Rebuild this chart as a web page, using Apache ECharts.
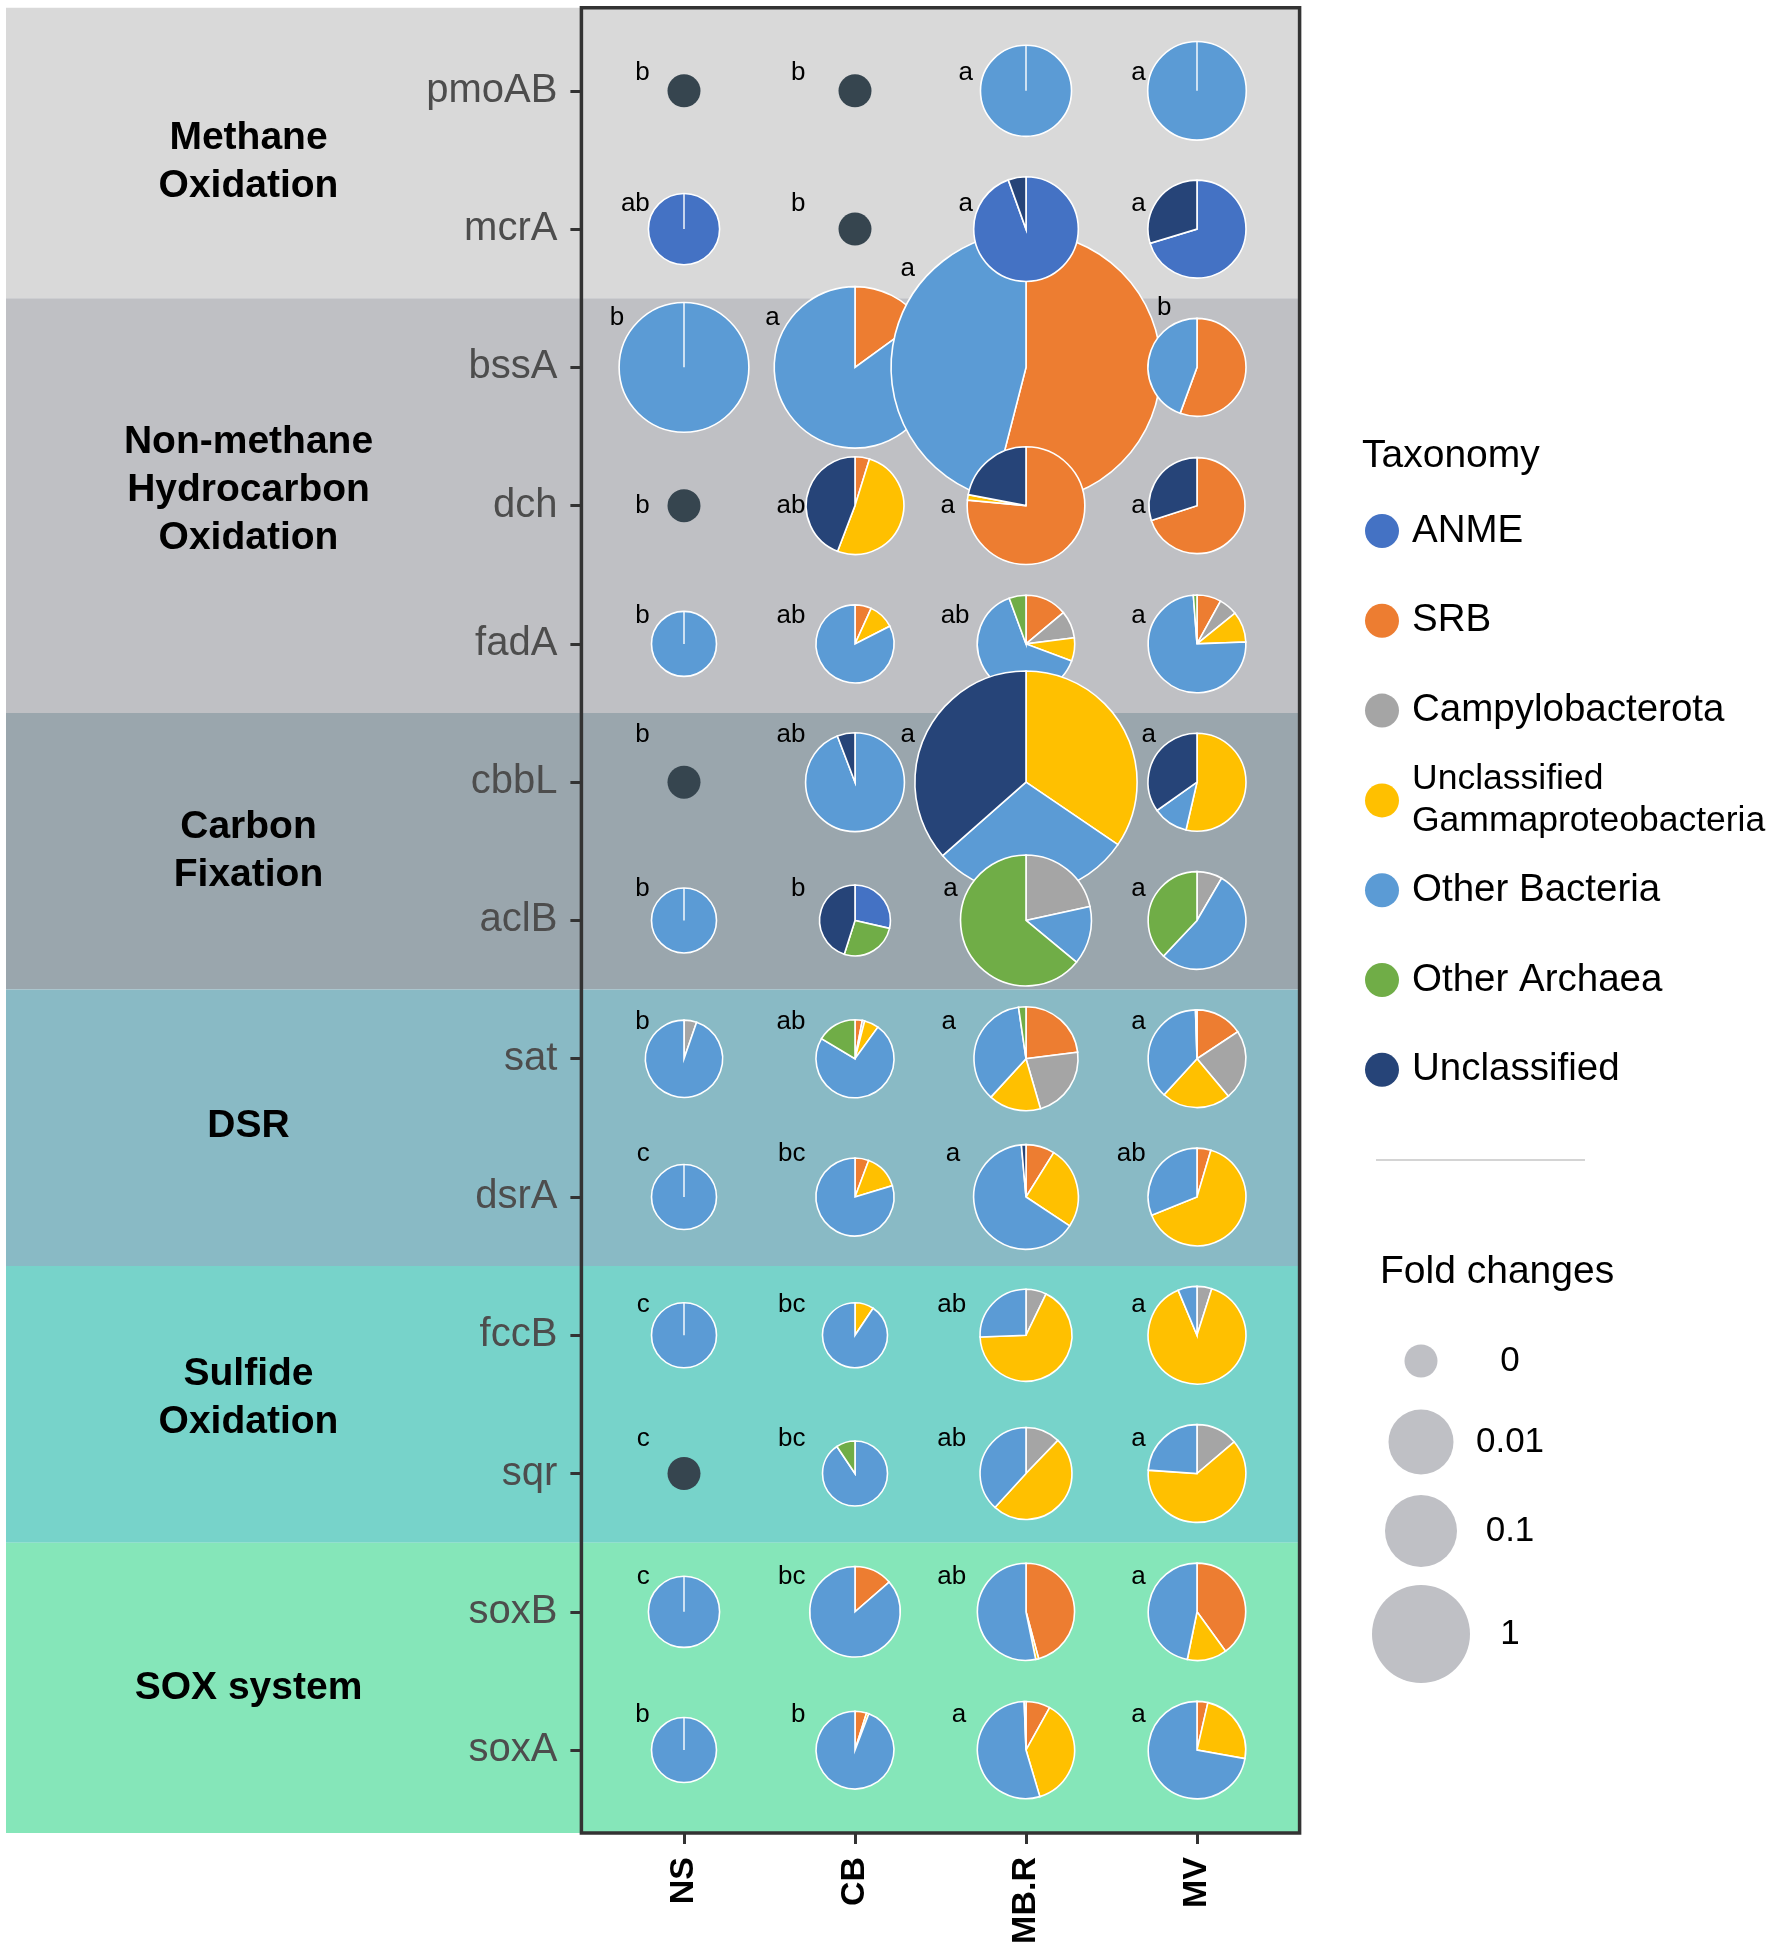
<!DOCTYPE html>
<html><head><meta charset="utf-8">
<script src="https://cdn.jsdelivr.net/npm/echarts/dist/echarts.min.js"></script>
<style>html,body{margin:0;padding:0;background:#fff}#c{width:1772px;height:1949px}</style>
</head><body><div id="c"></div>
<script>
// ---------------- data ----------------
const genes = ['pmoAB','mcrA','bssA','dch','fadA','cbbL','aclB','sat','dsrA','fccB','sqr','soxB','soxA'];
const sites = ['NS','CB','MB.R','MV'];
const taxa = ['ANME','SRB','Campylobacterota','Unclassified Gammaproteobacteria','Other Bacteria','Other Archaea','Unclassified'];
const groupNames = ['Methane\nOxidation','Non-methane\nHydrocarbon\nOxidation','Carbon\nFixation','DSR','Sulfide\nOxidation','SOX system'];
const groupSizes = [2,3,2,2,2,2];

// fold changes per site (gene order as in `genes`)
const foldNS  = [0, 0.09, 2.1, 0, 0.01, 0, 0.01, 0.28, 0.01, 0.01, 0, 0.09, 0.01];
const foldCB  = [0, 0, 3.2, 0.99, 0.31, 1.03, 0.085, 0.31, 0.31, 0.01, 0.01, 0.74, 0.3];
const foldMBR = [0.76, 1.23, 6.95, 1.68, 0.98, 5.3, 2.14, 1.21, 1.23, 0.79, 0.79, 0.97, 0.97];
const foldMV  = [1.02, 1.0, 1.0, 0.93, 0.99, 1.0, 0.99, 0.99, 0.99, 0.99, 0.99, 0.98, 0.98];

// significance letters
const lettersNS  = ['b','ab','b','b','b','b','b','b','c','c','c','c','b'];
const lettersCB  = ['b','b','a','ab','ab','ab','b','ab','bc','bc','bc','bc','b'];
const lettersMBR = ['a','a','a','a','ab','a','a','a','a','ab','ab','ab','a'];
const lettersMV  = ['a','a','b','a','a','a','a','a','ab','a','a','a','a'];

// taxonomy composition (%), order as in `taxa`
const compNS = [
  [0,0,0,0,0,0,0],[100,0,0,0,0,0,0],[0,0,0,0,100,0,0],[0,0,0,0,0,0,0],
  [0,0,0,0,100,0,0],[0,0,0,0,0,0,0],[0,0,0,0,100,0,0],[0,0,5.3,0,94.7,0,0],
  [0,0,0,0,100,0,0],[0,0,0,0,100,0,0],[0,0,0,0,0,0,0],[0,0,0,0,100,0,0],[0,0,0,0,100,0,0]
];
const compCB = [
  [0,0,0,0,0,0,0],[0,0,0,0,0,0,0],[0,15,0,0,85,0,0],[0,4.8,0,51,0,0,44.2],
  [0,6.8,0,10.7,82.5,0,0],[0,0,0,0,94.2,0,5.8],[28.6,0,0,0,0,26.3,45.1],[0,3,1,6,73.6,16.4,0],
  [0,5.7,0,14.6,79.7,0,0],[0,0,0,9.4,90.6,0,0],[0,0,0,0,90.6,9.4,0],[0,13.6,0,0,86.4,0,0],[0,4.8,0,1,94.2,0,0]
];
const compMBR = [
  [0,0,0,0,100,0,0],[94.5,0,0,0,0,0,5.5],[0,54,0,0,46,0,0],[0,76.5,0,1.5,0,0,22],
  [0,13.9,9.1,7.7,63.7,5.6,0],[0,0,0,34.5,29,0,36.5],[0,0,21.6,0,14.4,64,0],[0,23,22.5,16.3,35.9,2.3,0],
  [0,8.9,0,25.4,64.3,0,1.4],[0,0,7.2,67.2,25.6,0,0],[0,0,12.2,49.6,38.2,0,0],[0,45.8,0,1,53.2,0,0],[0,8.1,0,37.3,54,0.6,0]
];
const compMV = [
  [0,0,0,0,100,0,0],[70.3,0,0,0,0,0,29.7],[0,55.6,0,0,44.4,0,0],[0,70,0,0,0,0,30],
  [0,8,6.2,10.2,74.4,1.2,0],[0,0,0,53.6,11.6,0,34.8],[0,0,8.4,0,53.6,38,0],[0,15.7,23.2,22.9,37.7,0.5,0],
  [0,4.6,0,64.3,31.1,0,0],[0,0,4.9,88.8,6.3,0,0],[0,0,13.8,62.3,23.9,0,0],[0,40,0,13.2,46.8,0,0],[0,3.6,0,24.2,72.2,0,0]
];
const foldBreaks = [0, 0.01, 0.1, 1];   // fold-change legend values

// ---------------- styles / layout ----------------
const taxaColors = ['#4472C4','#ED7D31','#A5A5A5','#FFC000','#5B9BD5','#70AD47','#264478'];
const zeroColor = '#36454F';
const groupColors = ['#D9D9D9','#BFC0C4','#9AA6AD','#89BAC5','#77D3CA','#85E6B9'];
const groupLabelShift = [0.015, -0.11, 0, -0.015, -0.045, 0.055];   // in row steps
const sizeRange = [16.5, 32.5, 36, 49];  // radius (px) for foldBreaks at reference row step
const REF_STEP = 138.27;
const FONT = '"Liberation Sans", Arial, Helvetica, sans-serif';
const drawOrder = ['bssA','pmoAB','mcrA','dch','fadA','cbbL','aclB','sat','dsrA','fccB','sqr','soxB','soxA'];
const labelColOffset = [0.2, 0.29, 0.35, 0.30];                 // in column steps
const labelRowLift = [0.132,0.18,0.36,0,0.2,0.34,0.23,0.27,0.31,0.22,0.25,0.255,0.255]; // in row steps
const labelOverride = {
  'bssA|NS':[0.35,0.36], 'bssA|CB':[0.44,0.36], 'bssA|MB.R':[0.65,0.71], 'bssA|MV':[0.15,0.43],
  'cbbL|MB.R':[0.65,0.34], 'cbbL|MV':[0.24,0.34],
  'pmoAB|MB.R':[0.31,0.132], 'mcrA|MB.R':[0.31,0.18], 'dch|MB.R':[0.415,0], 'aclB|MB.R':[0.40,0.23],
  'sat|MB.R':[0.41,0.27], 'dsrA|MB.R':[0.385,0.31], 'fadA|MB.R':[0.33,0.2]
};

function sizeScale(v){
  const b = foldBreaks, s = sizeRange;
  if (v <= b[0]) return s[0];
  for (let i = 1; i < b.length; i++) {
    if (v <= b[i]) { const t = (v - b[i-1]) / (b[i] - b[i-1]); return s[i-1] + t * (s[i] - s[i-1]); }
  }
  const n = b.length, slope = (s[n-1] - s[n-2]) / (b[n-1] - b[n-2]);
  return s[n-1] + (v - b[n-1]) * slope;
}

const foldBySite = [foldNS, foldCB, foldMBR, foldMV];
const lettersBySite = [lettersNS, lettersCB, lettersMBR, lettersMV];
const compBySite = [compNS, compCB, compMBR, compMV];

const items = [];
drawOrder.forEach(g => {
  const gi = genes.indexOf(g);
  sites.forEach((s, si) => {
    items.push({ gi, si, gene: g, site: s, fold: foldBySite[si][gi], comp: compBySite[si][gi], letter: lettersBySite[si][gi] });
  });
});
const pieData = items.map(it => [it.si, it.gi, it.fold]);

// group bands
const bandData = [];
let start = 0;
groupSizes.forEach((n, g) => { bandData.push([0, start, start + n - 1, g]); start += n; });

function renderBand(params, api) {
  const cs = params.coordSys;
  const g = api.value(3), s = api.value(1), e = api.value(2);
  const rowStep = api.size([0, 1])[1];
  const pad = 0.1 * rowStep;
  let y1 = api.coord([0, s])[1] - rowStep / 2;
  let y2 = api.coord([0, e])[1] + rowStep / 2;
  if (g === 0) y1 = cs.y - pad;
  if (g === groupSizes.length - 1) y2 = cs.y + cs.height + pad;
  const colStep = api.size([1, 0])[0];
  const right = cs.x + cs.width + 0.1 * colStep;
  const midY = (api.coord([0, s])[1] + api.coord([0, e])[1]) / 2 + groupLabelShift[g] * rowStep;
  return { type: 'group', children: [
    { type: 'rect', shape: { x: 6, y: y1, width: right - 6, height: y2 - y1 }, style: { fill: groupColors[g] } },
    { type: 'text', x: cs.x - 350, y: midY, style: { text: groupNames[g], fill: '#000', fontSize: 39, fontWeight: 'bold', fontFamily: FONT, align: 'center', verticalAlign: 'middle', lineHeight: 47.7 } }
  ]};
}

function renderPie(params, api) {
  const it = items[params.dataIndex];
  const p = api.coord([api.value(0), api.value(1)]);
  const k = api.size([0, 1])[1] / REF_STEP;
  const r = sizeScale(api.value(2)) * k;
  const total = it.comp.reduce((a, b) => a + b, 0);
  if (total <= 0) return { type: 'circle', shape: { cx: p[0], cy: p[1], r }, style: { fill: zeroColor } };
  const children = [];
  let a = -Math.PI / 2;
  it.comp.forEach((v, i) => {
    if (v <= 0) return;
    const sw = v / total * Math.PI * 2;
    children.push({ type: 'sector', shape: { cx: p[0], cy: p[1], r, r0: 0, startAngle: a, endAngle: a + sw, clockwise: true },
      style: { fill: taxaColors[i], stroke: '#FFFFFF', lineWidth: 1.6 } });
    a += sw;
  });
  if (children.length === 1) {
    children.push({ type: 'line', shape: { x1: p[0], y1: p[1], x2: p[0], y2: p[1] - r }, style: { stroke: '#FFFFFF', lineWidth: 1.4 } });
  }
  return { type: 'group', children };
}

function renderLetter(params, api) {
  const it = items[params.dataIndex];
  const p = api.coord([api.value(0), api.value(1)]);
  const colStep = api.size([1, 0])[0], rowStep = api.size([0, 1])[1];
  const ov = labelOverride[it.gene + '|' + it.site];
  const dx = ov ? ov[0] : labelColOffset[it.si];
  const lift = ov ? ov[1] : labelRowLift[it.gi];
  return { type: 'text', x: p[0] - dx * colStep, y: p[1] - lift * rowStep,
    style: { text: it.letter, fill: '#000', fontSize: 26, fontFamily: FONT, align: 'right', verticalAlign: 'middle' } };
}

function renderBorder(params, api) {
  const cs = params.coordSys;
  const colStep = api.size([1, 0])[0], rowStep = api.size([0, 1])[1];
  const px = 0.1 * colStep, py = 0.1 * rowStep;
  return { type: 'rect', shape: { x: cs.x - px, y: cs.y - py, width: cs.width + 2 * px, height: cs.height + 2 * py },
    style: { fill: 'none', stroke: '#333333', lineWidth: 3.5 } };
}

// ---------------- legends (graphic) ----------------
const graphic = [];
graphic.push({ type: 'text', x: 1362, y: 456, style: { text: 'Taxonomy', fill: '#000', fontSize: 39, fontFamily: FONT, verticalAlign: 'middle' } });
taxa.forEach((t, i) => {
  const cy = 531 + i * 89.8;
  const twoLine = t.indexOf('Unclassified Gamma') === 0;
  graphic.push({ type: 'circle', shape: { cx: 1382, cy, r: 17 }, style: { fill: taxaColors[i] } });
  graphic.push({ type: 'text', x: 1412, y: cy, style: { text: twoLine ? t.replace(' ', '\n') : t, fill: '#000', fontSize: twoLine ? 35.5 : 38.5, fontFamily: FONT, verticalAlign: 'middle', lineHeight: 42 } });
});
graphic.push({ type: 'line', shape: { x1: 1376, y1: 1160, x2: 1585, y2: 1160 }, style: { stroke: '#D4D4D4', lineWidth: 2 } });
graphic.push({ type: 'text', x: 1380, y: 1272, style: { text: 'Fold changes', fill: '#000', fontSize: 39, fontFamily: FONT, verticalAlign: 'middle' } });
const foldLegendY = [1361, 1442, 1531, 1634];
foldBreaks.forEach((v, i) => {
  graphic.push({ type: 'circle', shape: { cx: 1421, cy: foldLegendY[i], r: sizeScale(v) }, style: { fill: '#BFC0C5' } });
  graphic.push({ type: 'text', x: 1510, y: foldLegendY[i], style: { text: String(v), fill: '#000', fontSize: 35, fontFamily: FONT, align: 'center', verticalAlign: 'middle' } });
});

// ---------------- chart ----------------
const chart = echarts.init(document.getElementById('c'), null, { renderer: 'canvas' });
chart.setOption({
  backgroundColor: '#FFFFFF',
  animation: false,
  grid: { left: 598.5, top: 21.7, width: 684, height: 1797.5, outerBoundsMode: 'none', containLabel: false },
  xAxis: {
    type: 'category', data: sites, position: 'bottom', offset: 13.8, z: 10,
    axisLine: { show: false },
    axisTick: { show: true, alignWithLabel: true, length: 11, lineStyle: { color: '#333333', width: 3 } },
    axisLabel: { rotate: 90, margin: 24, color: '#000', fontSize: 34, fontWeight: 'bold', fontFamily: FONT, interval: 0 },
    splitLine: { show: false }
  },
  yAxis: {
    type: 'category', data: genes, inverse: true, offset: 17.1, z: 10,
    axisLine: { show: false },
    axisTick: { show: true, alignWithLabel: true, length: 11, lineStyle: { color: '#333333', width: 3 } },
    axisLabel: { margin: 24, color: '#4D4D4D', fontSize: 40, fontFamily: FONT, interval: 0 },
    splitLine: { show: false }
  },
  series: [
    { type: 'custom', name: 'bands', renderItem: renderBand, data: bandData, encode: { x: 0, y: 1 }, clip: false, silent: true, z: 1 },
    { type: 'custom', name: 'pies', renderItem: renderPie, data: pieData, encode: { x: 0, y: 1 }, clip: false, z: 3 },
    { type: 'custom', name: 'letters', renderItem: renderLetter, data: pieData, encode: { x: 0, y: 1 }, clip: false, silent: true, z: 4 },
    { type: 'custom', name: 'border', renderItem: renderBorder, data: [[0, 0]], encode: { x: 0, y: 1 }, clip: false, silent: true, z: 5 }
  ],
  graphic: graphic
});
</script></body></html>
